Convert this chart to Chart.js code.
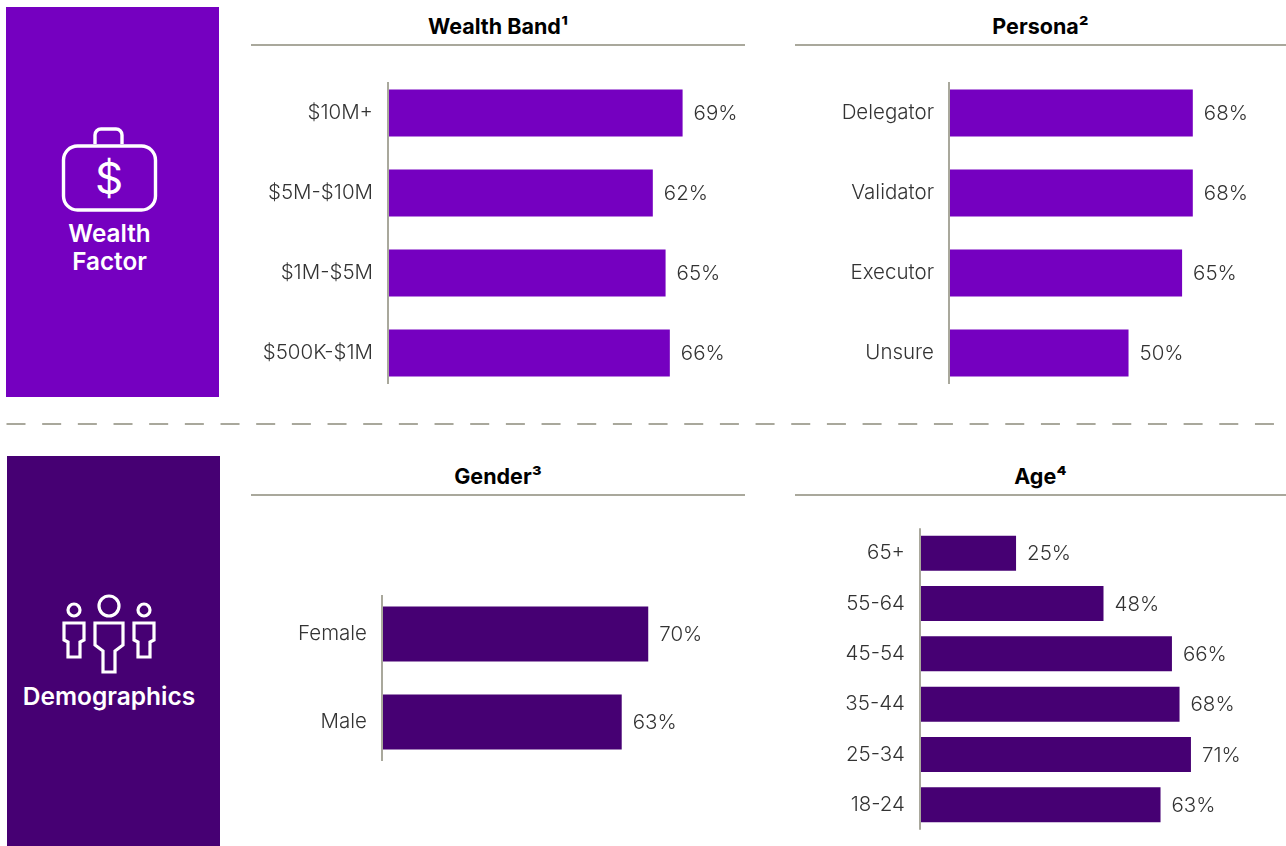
<!DOCTYPE html>
<html>
<head>
<meta charset="utf-8">
<title>Wealth factor and demographics</title>
<script src="https://cdn.jsdelivr.net/npm/chart.js@4"></script>
<style>
body { margin:0; background:#fff; font-family:Inter, "Liberation Sans", sans-serif; }
#page { position:relative; width:1286px; height:846px; overflow:hidden; }
.side { position:absolute; color:#fff; text-align:center; font-weight:600; font-size:24.3px; line-height:28px; }
.side svg { position:absolute; left:0; top:0; }
.side div { position:absolute; left:0; right:6px; }
.head { position:absolute; text-align:center; font-weight:700; font-size:21.5px; line-height:27px; color:#000; height:31px; border-bottom:2px solid #a9a89c; }
canvas { position:absolute; }
#sep { position:absolute; left:0; top:415px; }
</style>
</head>
<body>
<div id="page">
  <div class="side" style="left:6px;top:7px;width:213px;height:390px;background:#7500c0">
    <svg width="213" height="390" fill="none" stroke="#fff" stroke-width="3.4">
      <rect x="57.5" y="139" width="92" height="64" rx="14"/>
      <path d="M89 137v-9a6 6 0 0 1 6-6h15a6 6 0 0 1 6 6v9"/>
      <text x="103" y="187" fill="#fff" stroke="none" font-size="44" font-weight="400" text-anchor="middle" font-family="Inter">$</text>
    </svg>
    <div style="top:212px">Wealth<br>Factor</div>
  </div>
  <div class="side" style="left:7px;top:456px;width:213px;height:390px;background:#460073">
    <svg width="213" height="390" fill="none" stroke="#fff" stroke-width="3.2">
      <circle cx="102" cy="150" r="10"/>
      <circle cx="67" cy="154" r="6"/>
      <circle cx="137" cy="154" r="6"/>
      <path d="M88 167h28v22l-8 6v21H96v-21l-8-6z"/>
      <path d="M57 167h20v17l-4 2v15H61v-15l-4-2z"/>
      <path d="M127 167h20v17l-4 2v15h-12v-15l-4-2z"/>
    </svg>
    <div style="top:226px;right:9px;font-size:24.5px">Demographics</div>
  </div>

  <div class="head" style="left:251px;top:13px;width:494px">Wealth Band¹</div>
  <div class="head" style="left:795px;top:13px;width:491px">Persona²</div>
  <div class="head" style="left:251px;top:463px;width:494px">Gender³</div>
  <div class="head" style="left:795px;top:463px;width:491px">Age⁴</div>

  <svg id="sep" width="1286" height="18"><line x1="6.5" y1="9" x2="1275" y2="9" stroke="#a9a89c" stroke-width="2" stroke-dasharray="19 16.67"/></svg>

  <canvas id="wealth" width="497" height="320" style="left:249px;top:73px"></canvas>
  <canvas id="persona" width="491" height="320" style="left:795px;top:73px"></canvas>
  <canvas id="gender" width="497" height="176" style="left:249px;top:590px"></canvas>
  <canvas id="age" width="491" height="302" style="left:795px;top:528px"></canvas>
</div>
<script>
const wealthLabels = ['$10M+', '$5M-$10M', '$1M-$5M', '$500K-$1M']
const wealthValues = [69, 62, 65, 66]
const personaLabels = ['Delegator', 'Validator', 'Executor', 'Unsure']
const personaValues = [68, 68, 65, 50]
const genderLabels = ['Female', 'Male']
const genderValues = [70, 63]
const ageLabels = ['65+', '55-64', '45-54', '35-44', '25-34', '18-24']
const ageValues = [25, 48, 66, 68, 71, 63]

const PURPLE = '#7500c0'
const DARK = '#460073'
const TEXT = '#333333'
const LINE = '#a9a89c'
const FONT = 'Inter, "Liberation Sans", sans-serif'

// percent labels at the end of each bar, and the short axis line
const barDecor = {
    id: 'barDecor',
    afterDatasetsDraw(chart, args, opts) {
        const ctx = chart.ctx
        const bars = chart.getDatasetMeta(0).data
        const values = chart.data.datasets[0].data
        ctx.save()
        ctx.font = '300 20.5px ' + FONT
        ctx.fillStyle = TEXT
        ctx.textBaseline = 'middle'
        bars.forEach((bar, i) => {
            ctx.fillText(values[i] + '%', bar.x + 11, bar.y + 1)
        })
        const first = bars[0], last = bars[bars.length - 1]
        const x = chart.scales.x.getPixelForValue(0) - 1
        ctx.strokeStyle = LINE
        ctx.lineWidth = 2
        ctx.beginPath()
        ctx.moveTo(x, first.y - first.height / 2 - opts.overhang)
        ctx.lineTo(x, last.y + last.height / 2 + opts.overhang)
        ctx.stroke()
        ctx.restore()
    }
}

function makeChart(id, labels, values, color, axisWidth, xMax, barPct, overhang) {
    new Chart(document.getElementById(id).getContext('2d'), {
        type: 'bar',
        data: {
            labels: labels,
            datasets: [{
                data: values,
                backgroundColor: color,
                barPercentage: barPct,
                categoryPercentage: 1
            }]
        },
        options: {
            indexAxis: 'y',
            responsive: false,
            animation: false,
            layout: { padding: 0 },
            plugins: {
                legend: { display: false },
                tooltip: { enabled: false },
                barDecor: { overhang: overhang }
            },
            scales: {
                x: { display: false, min: 0, max: xMax },
                y: {
                    // fixed gutter, and no extra room above and below for the tick labels
                    afterFit: (scale) => {
                        scale.width = axisWidth
                        scale.paddingTop = 0
                        scale.paddingBottom = 0
                    },
                    grid: { display: false, drawTicks: false },
                    border: { display: false },
                    ticks: { color: TEXT, padding: 16, font: { family: FONT, size: 20.5, weight: '300' } }
                }
            }
        },
        plugins: [barDecor]
    })
}

makeChart('wealth', wealthLabels, wealthValues, PURPLE, 140, 83.9, 0.5875, 7.5)
makeChart('persona', personaLabels, personaValues, PURPLE, 155, 94.1, 0.5875, 7.5)
makeChart('gender', genderLabels, genderValues, DARK, 134, 95.8, 0.625, 11.5)
makeChart('age', ageLabels, ageValues, DARK, 126, 96.0, 0.695, 7.5)
</script>
</body>
</html>
